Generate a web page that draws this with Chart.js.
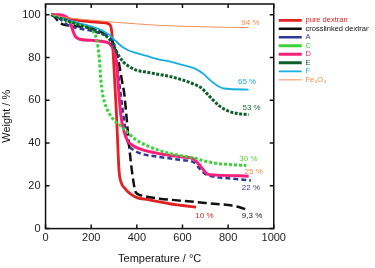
<!DOCTYPE html>
<html>
<head>
<meta charset="utf-8">
<script src="https://cdn.jsdelivr.net/npm/chart.js@4.4.1/dist/chart.umd.min.js"></script>
<style>
  html, body { margin: 0; padding: 0; background: #fff; }
  #wrap { width: 375px; height: 268px; }
</style>
</head>
<body>
<div id="wrap"><canvas id="tgaChart"></canvas></div>
<script>
// series labels (legend order)
var seriesNames = ["pure dextran", "crosslinked dextran", "A", "C", "D", "E", "F", "Fe\u2083O\u2084"];

// temperature (°C) / weight (%)
var pureT = [25, 50, 100, 150, 200, 250, 280, 290, 300, 310, 317, 322, 330, 350, 375, 400, 450, 500, 550, 600, 660];
var pureW = [100, 99.3, 98, 97.2, 96.7, 96.3, 95.5, 92, 75, 55, 38, 27, 22, 18.5, 16, 14.5, 13.5, 12.5, 11.5, 10.8, 10];

var crossT = [25, 40, 55, 75, 100, 150, 200, 250, 280, 300, 320, 335, 345, 355, 365, 375, 385, 395, 420, 450, 500, 600, 700, 750, 800, 850, 890];
var crossW = [100, 99, 97, 95.5, 95, 94.5, 93.5, 91.5, 89, 86, 78, 69, 63, 52, 40, 30, 22, 17, 15.5, 14.8, 14, 13, 12, 11.5, 11, 10, 8.5];

var aT = [25, 50, 75, 100, 150, 200, 250, 280, 300, 315, 330, 345, 355, 365, 390, 420, 500, 600, 650, 675, 700, 750, 800, 900];
var aW = [100, 99, 97, 95, 93.5, 92.5, 91, 89.5, 86, 75, 62, 50, 43, 39, 36.5, 35, 33.5, 32, 31, 28, 25.5, 24, 23.5, 22.5];

var cT = [25, 50, 100, 150, 200, 210, 225, 235, 242, 250, 265, 290, 340, 390, 450, 500, 550, 600, 650, 700, 750, 800, 880];
var cW = [100, 99, 97, 95.5, 93.5, 92, 88, 80, 70, 63, 57, 52, 47, 42, 38.5, 36.5, 35, 34, 33, 31.5, 30.5, 30, 29.5];

var dT = [25, 60, 90, 105, 115, 130, 150, 200, 250, 280, 300, 310, 320, 330, 345, 360, 380, 420, 500, 600, 650, 680, 710, 750, 890];
var dW = [100, 100, 99, 97.5, 94, 90, 88.5, 88, 87.5, 86.5, 83, 78, 65, 53, 45, 41, 39, 37, 35, 33.5, 32.5, 29, 25.5, 25, 24.5];

var eT = [25, 50, 100, 150, 200, 250, 280, 300, 320, 340, 370, 400, 450, 500, 550, 600, 650, 680, 700, 730, 760, 800, 840, 890];
var eW = [100, 99, 97, 95, 93.5, 91, 88.5, 85, 81, 78, 75.5, 74, 73, 72, 71, 69.5, 67.5, 66, 64, 60.5, 57.5, 55, 53.8, 53.3];

var fT = [25, 50, 100, 150, 200, 250, 280, 300, 330, 360, 400, 450, 500, 550, 600, 650, 690, 720, 750, 780, 890];
var fW = [100, 99, 97.5, 96, 94.5, 92.5, 90.5, 88.5, 85.5, 83.5, 82, 80.5, 79, 78, 76.5, 75, 72.5, 69.5, 67, 65.5, 65];

var feT = [25, 100, 200, 300, 400, 500, 600, 700, 800, 890];
var feW = [100, 98.5, 97.5, 96.5, 95.7, 95, 94.6, 94.3, 94.1, 94];

// tick values
var xTicks = [0, 200, 400, 600, 800, 1000];
var yTicks = [0, 20, 40, 60, 80, 100];

// residue labels: text, temperature, weight
var endLabels = ["94 %", "65 %", "53 %", "30 %", "25 %", "22 %", "10 %", "9,3 %"];
var endLabelT = [898, 883, 903, 889, 912, 900, 696, 905];
var endLabelW = [96.2, 68.6, 56.3, 32.6, 26.7, 19.1, 6.0, 6.0];
var endLabelColor = ["#ee8a4e", "#1aaee2", "#166b35", "#5ccf3c", "#ee8a4e", "#2f3a98", "#d8222a", "#222222"];

function pts(xs, ys) {
  var out = [];
  for (var i = 0; i < xs.length; i++) out.push({x: xs[i], y: ys[i]});
  return out;
}

function series(name, xs, ys, color, width, dash) {
  return {
    label: name,
    data: pts(xs, ys),
    borderColor: color,
    backgroundColor: color,
    borderWidth: width,
    borderDash: dash,
    pointRadius: 0,
    pointStyle: 'line',
    fill: false,
    cubicInterpolationMode: 'monotone'
  };
}

var framePlugin = {
  id: 'frame',
  afterLayout: function(chart) {
    // legend sits just right of the frame
    var lg = chart.legend, w = lg.width;
    lg.left = chart.chartArea.right + 4;
    lg.right = lg.left + w;
  },
  afterDatasetsDraw: function(chart) {
    var c = chart.ctx, a = chart.chartArea;
    var xs = chart.scales.x, ys = chart.scales.y;
    c.save();
    c.strokeStyle = '#111';
    c.lineWidth = 1.5;
    c.strokeRect(a.left, a.top, a.right - a.left, a.bottom - a.top);
    c.beginPath();
    xTicks.forEach(function(v) {
      var px = xs.getPixelForValue(v);
      c.moveTo(px, a.bottom); c.lineTo(px, a.bottom - 4);
      c.moveTo(px, a.top); c.lineTo(px, a.top + 4);
    });
    yTicks.forEach(function(v) {
      var py = ys.getPixelForValue(v);
      c.moveTo(a.left, py); c.lineTo(a.left + 4, py);
      c.moveTo(a.right, py); c.lineTo(a.right - 4, py);
    });
    c.stroke();
    // residue percentages
    c.font = '8px "Liberation Sans", Arial, sans-serif';
    c.textAlign = 'center';
    c.textBaseline = 'middle';
    for (var i = 0; i < endLabels.length; i++) {
      c.fillStyle = endLabelColor[i];
      c.fillText(endLabels[i], xs.getPixelForValue(endLabelT[i]), ys.getPixelForValue(endLabelW[i]));
    }
    c.restore();
  }
};

var legendColors = ["#e02222", "#111111", "#2f3a98", "#3ad33a", "#f0247a", "#0e5e2c", "#18aee0", "#ee8a4e"];

var ctx = document.getElementById('tgaChart').getContext("2d");

var myChart = new Chart(ctx, {
  type: 'line',
  data: {
    datasets: [
      series(seriesNames[7], feT, feW, "#ef9257", 1, []),
      series(seriesNames[5], eT, eW, "#0e5e2c", 3, [3, 1.5]),
      series(seriesNames[6], fT, fW, "#18aee0", 1.8, []),
      series(seriesNames[3], cT, cW, "#3ad33a", 3, [3, 2]),
      series(seriesNames[4], dT, dW, "#f81f78", 3, []),
      series(seriesNames[2], aT, aW, "#2f3a98", 2.5, [5, 3]),
      series(seriesNames[1], crossT, crossW, "#111111", 2.5, [9, 4]),
      series(seriesNames[0], pureT, pureW, "#e22222", 2.8, [])
    ]
  },
  options: {
    responsive: true,
    maintainAspectRatio: false,
    animation: false,
    layout: {
      padding: {top: 4, right: 10, bottom: 0, left: 0}
    },
    scales: {
      x: {
        type: 'linear',
        min: 0,
        max: 1000,
        grid: {display: false, drawTicks: false},
        border: {display: false},
        afterBuildTicks: function(scale) {
          scale.ticks = xTicks.map(function(v) { return {value: v}; });
        },
        ticks: {
          padding: 3,
          color: '#222',
          maxRotation: 0,
          callback: function(v) { return String(v); },
          font: {family: '"Liberation Sans", Arial, sans-serif', size: 11}
        },
        title: {
          display: true,
          text: 'Temperature / \u00b0C',
          color: '#111',
          padding: {top: 5, bottom: 2},
          font: {family: '"Liberation Sans", Arial, sans-serif', size: 11}
        }
      },
      y: {
        min: 0,
        max: 105,
        grid: {display: false, drawTicks: false},
        border: {display: false},
        afterBuildTicks: function(scale) {
          scale.ticks = yTicks.map(function(v) { return {value: v}; });
        },
        afterFit: function(scale) {
          scale.paddingTop = 0;
          scale.paddingBottom = 0;
        },
        ticks: {
          padding: 5,
          color: '#222',
          font: {family: '"Liberation Sans", Arial, sans-serif', size: 11}
        },
        title: {
          display: true,
          text: 'Weight / %',
          color: '#111',
          padding: {top: 0, bottom: 4},
          font: {family: '"Liberation Sans", Arial, sans-serif', size: 11}
        }
      }
    },
    plugins: {
      tooltip: {enabled: false},
      legend: {
        display: true,
        position: 'right',
        align: 'start',
        title: {
          display: true,
          text: ' ',
          padding: {top: 2, bottom: 0},
          font: {size: 8}
        },
        labels: {
          usePointStyle: true,
          pointStyleWidth: 23,
          boxHeight: 7.5,
          padding: 1,
          font: {family: '"Liberation Sans", Arial, sans-serif', size: 7.5},
          sort: function(a, b) {
            return seriesNames.indexOf(a.text) - seriesNames.indexOf(b.text);
          },
          generateLabels: function(chart) {
            var items = Chart.defaults.plugins.legend.labels.generateLabels(chart);
            items.forEach(function(it) {
              it.fontColor = legendColors[seriesNames.indexOf(it.text)];
            });
            return items;
          }
        }
      }
    }
  },
  plugins: [framePlugin]
});
</script>
</body>
</html>
